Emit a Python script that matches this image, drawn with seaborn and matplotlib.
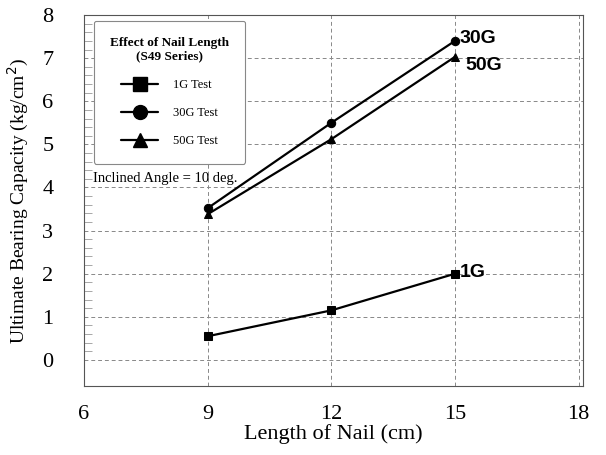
import matplotlib
matplotlib.use("Agg")
import matplotlib.pyplot as plt
import seaborn as sns
import pandas as pd
from matplotlib.lines import Line2D

lengths = [9, 12, 15]
cap_1g = [0.55, 1.15, 2.0]
cap_30g = [3.52, 5.5, 7.4]
cap_50g = [3.38, 5.12, 7.03]
series_names = ["1G", "30G", "50G"]
legend_labels = ["1G Test", "30G Test", "50G Test"]
x_ticks = [6, 9, 12, 15, 18]
y_ticks = [0, 1, 2, 3, 4, 5, 6, 7, 8]

df = pd.DataFrame({
    "length": lengths * 3,
    "cap": cap_1g + cap_30g + cap_50g,
    "series": [s for s in series_names for _ in lengths],
})

sns.set_theme(style="white")
plt.rcParams["font.family"] = ["Liberation Serif", "DejaVu Serif"]
for k in ["text.color", "axes.labelcolor", "xtick.color", "ytick.color"]:
    plt.rcParams[k] = "black"

fig = plt.figure(figsize=(6.06, 4.55), dpi=100)
ax = fig.add_axes([0.1386, 0.152, 0.823, 0.815])

markers = {"1G": "s", "30G": "o", "50G": "^"}
sns.lineplot(data=df, x="length", y="cap", hue="series", style="series",
             markers=markers, dashes=False, palette=["black"] * 3,
             markersize=6, linewidth=1.6, markeredgecolor="black",
             legend=False, ax=ax)

ax.set_xlim(6, 18.1)
ax.set_ylim(-0.6, 8)
ax.set_xticks(x_ticks)
ax.set_yticks(y_ticks)
ax.set_xticklabels([str(t) for t in x_ticks], fontsize=16)
ax.set_yticklabels([str(t) for t in y_ticks], fontsize=16)
ax.tick_params(axis="x", length=0, pad=14)
ax.tick_params(axis="y", length=0, pad=22)
ax.set_yticks([v / 5 for v in range(0, 40)], minor=True)
ax.tick_params(axis="y", which="minor", length=6, width=0.6, color="#999999", direction="in", left=True)

ax.grid(True, linestyle=(0, (4, 3)), color="#888888", linewidth=0.7)
for s in ax.spines.values():
    s.set_color("#555555")
    s.set_linewidth(0.8)

ax.set_xlabel("Length of Nail (cm)", fontsize=16, labelpad=0)
ax.set_ylabel("Ultimate Bearing Capacity (kg/cm$^2$)", fontsize=14, labelpad=8)

ends = {"30G": (cap_30g[-1], 0.05, 0.12), "50G": (cap_50g[-1], -0.2, 0.25), "1G": (cap_1g[-1], 0.02, 0.12)}
for name, (yv, dy, dx) in ends.items():
    ax.text(lengths[-1] + dx, yv + dy, name, fontsize=14, fontweight="bold",
            family=["Liberation Sans", "DejaVu Sans"], va="center", ha="left")

handles = [Line2D([], [], color="black", marker=markers[n], markersize=10, linewidth=1.6)
           for n in series_names]
leg = ax.legend(handles, legend_labels, title="Effect of Nail Length\n(S49 Series)",
                loc="upper left", bbox_to_anchor=(0.012, 0.995), fontsize=9,
                title_fontproperties={"size": 9.5, "weight": "bold"},
                handlelength=3.0, handletextpad=1.2, labelspacing=1.3,
                borderpad=1.3, borderaxespad=0.3, frameon=True, fancybox=True,
                edgecolor="#888888", framealpha=1.0)
leg.get_title().set_multialignment("center")
leg.get_frame().set_linewidth(0.8)

ax.text(0.018, 0.56, "Inclined Angle = 10 deg.", transform=ax.transAxes,
        fontsize=10.5, ha="left", va="center")

fig.savefig("out.png", dpi=100)
